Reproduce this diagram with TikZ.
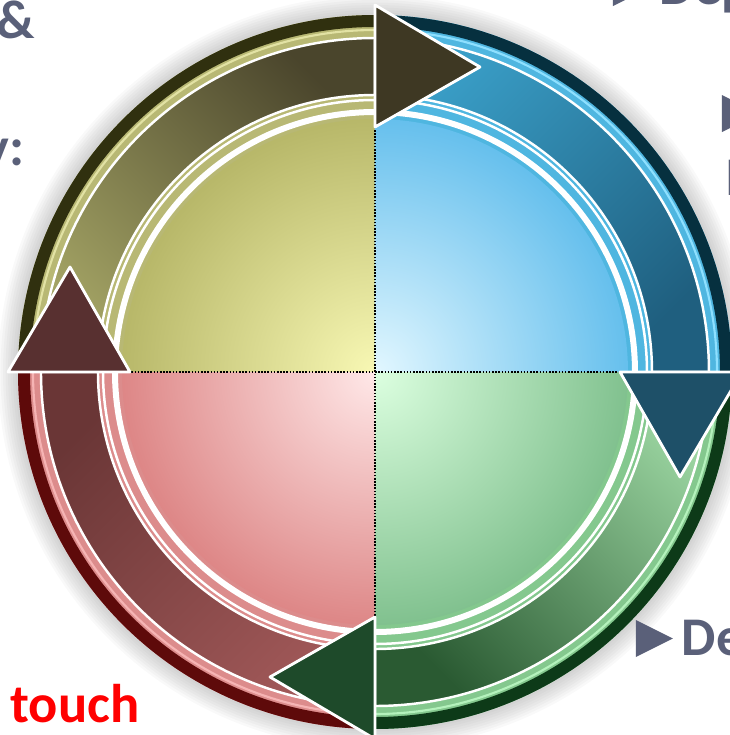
\documentclass[tikz,border=0pt]{standalone}
\usepackage{fontspec}
\setmainfont{Carlito}
\usetikzlibrary{calc}

\definecolor{textgray}{HTML}{5A6079}
% yellow quadrant
\definecolor{yelRim}{HTML}{30300F}
\definecolor{yelBand}{HTML}{B8B874}
\definecolor{yelGlint}{HTML}{E2E2A4}
\definecolor{yelIn}{HTML}{F8F8B4}
\definecolor{yelOut}{HTML}{83832C}
\definecolor{yelTail}{HTML}{A3A364}
\definecolor{yelDark}{HTML}{4A452C}
\definecolor{yelHead}{HTML}{3E3823}
% blue quadrant
\definecolor{bluRim}{HTML}{06303F}
\definecolor{bluBand}{HTML}{4FB6E0}
\definecolor{bluGlint}{HTML}{8EE0FF}
\definecolor{bluIn}{HTML}{E2F7FF}
\definecolor{bluOut}{HTML}{0092DE}
\definecolor{bluTail}{HTML}{3A9FC8}
\definecolor{bluDark}{HTML}{1F5F7F}
\definecolor{bluHead}{HTML}{1E5068}
% green quadrant
\definecolor{grnRim}{HTML}{0D3A18}
\definecolor{grnBand}{HTML}{84C88E}
\definecolor{grnGlint}{HTML}{B4F2BC}
\definecolor{grnIn}{HTML}{DCFFE0}
\definecolor{grnOut}{HTML}{368E4C}
\definecolor{grnTail}{HTML}{9AD4A0}
\definecolor{grnDark}{HTML}{2A5A32}
\definecolor{grnHead}{HTML}{1E4A2A}
% red quadrant
\definecolor{redRim}{HTML}{5E0A0A}
\definecolor{redBand}{HTML}{DC8C8C}
\definecolor{redGlint}{HTML}{F6B4B4}
\definecolor{redIn}{HTML}{FFE8E8}
\definecolor{redOut}{HTML}{C23737}
\definecolor{redTail}{HTML}{A05858}
\definecolor{redDark}{HTML}{6A3636}
\definecolor{redHead}{HTML}{583030}

\begin{document}
\begin{tikzpicture}[line join=round]
    % Styles
    \tikzset{
        rim/.style={line width=0.12cm, line cap=butt},
        glint/.style={line width=0.6pt, line cap=butt},
        whitering/.style={white, line width=0.06cm},
        thinring/.style={white, line width=0.025cm},
        shaft/.style={draw=white, line width=0.7pt},
        head/.style={draw=white, line width=0.8pt},
        crossline/.style={black, line width=0.5pt, dash pattern=on 0.45pt off 0.45pt},
        label/.style={font=\fontsize{15.5}{18}\selectfont\bfseries, text=textgray, inner sep=0pt},
        bullet/.style={fill=textgray}
    }

    % Frame (origin at the centre of the wheel)
    \useasboundingbox (-3.75,-3.63) rectangle (3.55,3.72);
    \clip (-3.75,-3.63) rectangle (3.55,3.72);

    % --- Soft shadow ---
    \foreach \i in {1,...,8}
        \fill[black, opacity=0.025] (0,0) circle ({3.57+0.025*\i});

    % --- Quadrant 1 (upper left, yellow) ---
    \fill[yelBand] (0,0) -- (180:3.57) arc[start angle=180, end angle=90, radius=3.57] -- cycle;
    \draw[rim, yelRim] (180:3.51) arc[start angle=180, end angle=90, radius=3.51];
    \draw[glint, yelGlint] (180:3.42) arc[start angle=180, end angle=90, radius=3.42];
    \begin{scope}
        \clip (0,0) -- (180:2.53) arc[start angle=180, end angle=90, radius=2.53] -- cycle;
        \shade[inner color=yelIn, outer color=yelOut] (0,0) circle (4.6);
    \end{scope}

    % --- Quadrant 2 (upper right, blue) ---
    \fill[bluBand] (0,0) -- (90:3.57) arc[start angle=90, end angle=0, radius=3.57] -- cycle;
    \draw[rim, bluRim] (90:3.51) arc[start angle=90, end angle=0, radius=3.51];
    \draw[glint, bluGlint] (90:3.42) arc[start angle=90, end angle=0, radius=3.42];
    \begin{scope}
        \clip (0,0) -- (90:2.53) arc[start angle=90, end angle=0, radius=2.53] -- cycle;
        \shade[inner color=bluIn, outer color=bluOut] (0,0) circle (4.6);
    \end{scope}

    % --- Quadrant 3 (lower right, green) ---
    \fill[grnBand] (0,0) -- (0:3.57) arc[start angle=0, end angle=-90, radius=3.57] -- cycle;
    \draw[rim, grnRim] (0:3.51) arc[start angle=0, end angle=-90, radius=3.51];
    \draw[glint, grnGlint] (0:3.42) arc[start angle=0, end angle=-90, radius=3.42];
    \begin{scope}
        \clip (0,0) -- (0:2.53) arc[start angle=0, end angle=-90, radius=2.53] -- cycle;
        \shade[inner color=grnIn, outer color=grnOut] (0,0) circle (4.6);
    \end{scope}

    % --- Quadrant 4 (lower left, red) ---
    \fill[redBand] (0,0) -- (270:3.57) arc[start angle=270, end angle=180, radius=3.57] -- cycle;
    \draw[rim, redRim] (270:3.51) arc[start angle=270, end angle=180, radius=3.51];
    \draw[glint, redGlint] (270:3.42) arc[start angle=270, end angle=180, radius=3.42];
    \begin{scope}
        \clip (0,0) -- (270:2.53) arc[start angle=270, end angle=180, radius=2.53] -- cycle;
        \shade[inner color=redIn, outer color=redOut] (0,0) circle (4.6);
    \end{scope}

    % --- Rings and dividers ---
    \draw[whitering] (0,0) circle (2.60);
    \draw[thinring] (0,0) circle (2.72);
    \draw[crossline] (-2.53,0) -- (2.53,0);
    \draw[crossline] (0,-2.53) -- (0,2.53);

    % --- Arrow shafts ---
    \shadedraw[shaft, top color=yelDark, bottom color=yelTail, shading angle=-45]
        (180:3.34) arc[start angle=180, end angle=90, radius=3.34]
        -- (90:2.77) arc[start angle=90, end angle=180, radius=2.77] -- cycle;
    \shadedraw[shaft, top color=bluDark, bottom color=bluTail, shading angle=-135]
        (90:3.34) arc[start angle=90, end angle=0, radius=3.34]
        -- (0:2.77) arc[start angle=0, end angle=90, radius=2.77] -- cycle;
    \shadedraw[shaft, top color=grnDark, bottom color=grnTail, shading angle=135]
        (0:3.34) arc[start angle=0, end angle=-90, radius=3.34]
        -- (-90:2.77) arc[start angle=-90, end angle=0, radius=2.77] -- cycle;
    \shadedraw[shaft, top color=redDark, bottom color=redTail, shading angle=45]
        (270:3.34) arc[start angle=270, end angle=180, radius=3.34]
        -- (180:2.77) arc[start angle=180, end angle=270, radius=2.77] -- cycle;

    % --- Arrow heads ---
    \coordinate (Y_in) at (90:2.45);
    \coordinate (Y_out) at (90:3.67);
    \coordinate (Y_tip) at (1.05, 3.05);
    \filldraw[head, fill=yelHead] (Y_in) -- (Y_out) -- (Y_tip) -- cycle;

    \coordinate (B_in) at (0:2.45);
    \coordinate (B_out) at (0:3.67);
    \coordinate (B_tip) at (3.05, -1.05);
    \filldraw[head, fill=bluHead] (B_in) -- (B_out) -- (B_tip) -- cycle;

    \coordinate (G_in) at (270:2.45);
    \coordinate (G_out) at (270:3.67);
    \coordinate (G_tip) at (-1.05, -3.05);
    \filldraw[head, fill=grnHead] (G_in) -- (G_out) -- (G_tip) -- cycle;

    \coordinate (R_in) at (180:2.45);
    \coordinate (R_out) at (180:3.67);
    \coordinate (R_tip) at (-3.05, 1.05);
    \filldraw[head, fill=redHead] (R_in) -- (R_out) -- (R_tip) -- cycle;

    % --- Text fragments round the wheel ---
    \node[label, anchor=base east] (amp) at (-3.39, 3.34) {\&};
    \node[label, anchor=base east] (colon) at (-3.50, 2.07) {y:};
    \node[label, anchor=base east, text=red] (touch) at (-2.35, -3.50) {touch};

    \fill[bullet] (2.38, 3.66) -- (2.38, 4.03) -- (2.75, 3.845) -- cycle;
    \node[label, anchor=base west] (dep) at (2.84, 3.68) {Dep};

    \fill[bullet] (3.47, 2.40) -- (3.47, 2.77) -- (3.84, 2.585) -- cycle;
    \node[label, anchor=base west] (stem) at (3.50, 1.77) {I};

    \fill[bullet] (2.61, -2.85) -- (2.61, -2.48) -- (2.98, -2.665) -- cycle;
    \node[label, anchor=base west] (de) at (3.06, -2.83) {De};
\end{tikzpicture}
\end{document}
